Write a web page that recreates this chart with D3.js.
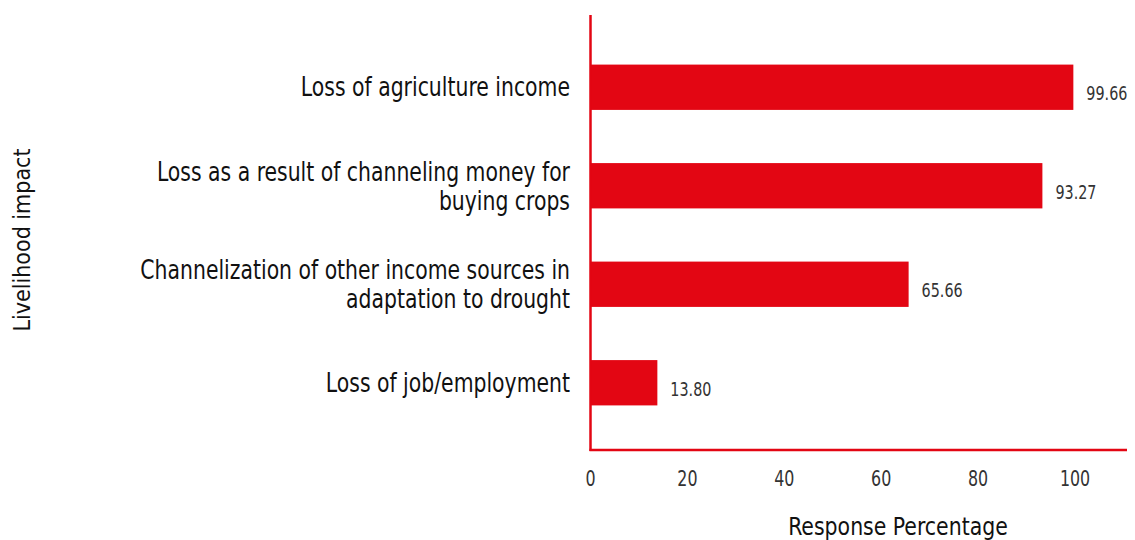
<!DOCTYPE html>
<html>
<head>
<meta charset="utf-8">
<script src="https://cdn.jsdelivr.net/npm/d3@7"></script>
<style>
  html, body { margin: 0; padding: 0; background: #fff; }
  text { font-family: "DejaVu Sans Condensed", "DejaVu Sans", sans-serif; }
</style>
</head>
<body>
<svg id="chart" width="1135" height="540"></svg>
<script>
// Livelihood impacts of drought, share of respondents (%)
const categories = [
  ["Loss of agriculture income"],
  ["Loss as a result of channeling money for", "buying crops"],
  ["Channelization of other income sources in", "adaptation to drought"],
  ["Loss of job/employment"]
];
const values = [99.66, 93.27, 65.66, 13.80];
const xTicks = [0, 20, 40, 60, 80, 100];
const xTitle = "Response Percentage";
const yTitle = "Livelihood impact";

const red = "#e30613";
const svg = d3.select("#chart");

const x = d3.scaleLinear().domain([0, 100]).range([590.5, 1075]);
const y = d3.scaleBand()
  .domain(d3.range(values.length))
  .range([38, 432])
  .paddingInner(0.54)
  .paddingOuter(0.27);

// bars
svg.append("g").selectAll("rect")
  .data(values)
  .join("rect")
  .attr("x", x(0))
  .attr("y", (d, i) => y(i))
  .attr("width", d => x(d) - x(0))
  .attr("height", y.bandwidth())
  .attr("fill", red);

// value labels (narrow, light)
svg.append("g").selectAll("g")
  .data(values)
  .join("g")
  .attr("transform", (d, i) => `translate(${x(d) + 13},${y(i) + y.bandwidth() / 2 + 13}) scale(0.84,1)`)
  .append("text")
  .attr("font-size", 19)
  .attr("fill", "#333")
  .text(d => d.toFixed(2));

// category labels, set in a narrow face by compressing horizontally
const labelGroup = svg.append("g")
  .attr("transform", "translate(570,0) scale(0.84,1)");
const labels = labelGroup.selectAll("text")
  .data(categories)
  .join("text")
  .attr("text-anchor", "end")
  .attr("font-size", 27)
  .attr("fill", "#111")
  .attr("x", 0)
  .attr("y", (d, i) => y(i) + y.bandwidth() / 2 + 9 - (d.length - 1) * 14);
labels.selectAll("tspan")
  .data(d => d)
  .join("tspan")
  .attr("x", 0)
  .attr("dy", (d, j) => j === 0 ? 0 : 29)
  .text(d => d);

// axes lines
svg.append("line")
  .attr("x1", x(0)).attr("x2", x(0))
  .attr("y1", 15).attr("y2", 451)
  .attr("stroke", red).attr("stroke-width", 2.5);
svg.append("line")
  .attr("x1", x(0) - 1).attr("x2", 1127)
  .attr("y1", 450).attr("y2", 450)
  .attr("stroke", red).attr("stroke-width", 2.5);

// x tick labels
svg.append("g").selectAll("g")
  .data(xTicks)
  .join("g")
  .attr("transform", d => `translate(${x(d)},486) scale(0.84,1)`)
  .append("text")
  .attr("text-anchor", "middle")
  .attr("font-size", 21)
  .attr("fill", "#333")
  .text(d => d);

// axis titles
svg.append("g")
  .attr("transform", "translate(898,535) scale(0.91,1)")
  .append("text")
  .attr("text-anchor", "middle")
  .attr("font-size", 25)
  .attr("fill", "#111")
  .text(xTitle);
svg.append("text")
  .attr("transform", "translate(30,240) rotate(-90)")
  .attr("text-anchor", "middle")
  .attr("font-size", 23)
  .attr("fill", "#111")
  .text(yTitle);
</script>
</body>
</html>
